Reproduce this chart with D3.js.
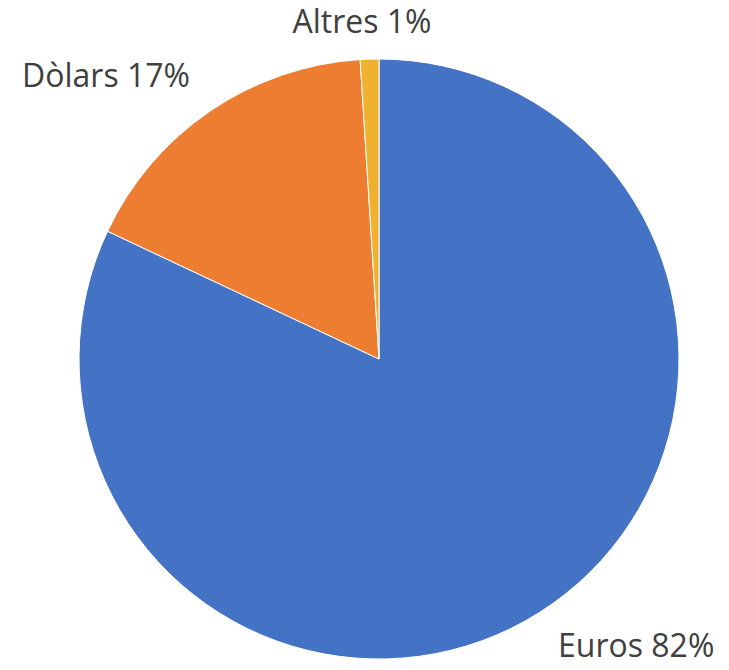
<!DOCTYPE html>
<html><head><meta charset="utf-8">
<script src="https://cdn.jsdelivr.net/npm/d3@7"></script>
<style>html,body{margin:0;padding:0;background:#fff;}</style>
</head><body>
<svg id="c" width="729" height="670"></svg>
<script>
const categories = ["Euros", "Dòlars", "Altres"];
const values = [82, 17, 1];
const colors = ["#4472C4", "#ED7D31", "#F0B130"];

const svg = d3.select("#c");
const cx = 379, cy = 359, R = 300;
const g = svg.append("g").attr("transform", `translate(${cx},${cy})`);
const data = categories.map((c, i) => ({ cat: c, val: values[i] }));
const pie = d3.pie().value(d => d.val).sort(null);
const arc = d3.arc().innerRadius(0).outerRadius(R);
const arcs = pie(data);
g.selectAll("path").data(arcs).enter().append("path")
  .attr("d", arc)
  .attr("fill", (d, i) => colors[i])
  .attr("stroke", "#fff").attr("stroke-width", 1);

// label placement relative to center
const labelPos = [
  { dx: 179, dy: 298, anchor: "start" },
  { dx: -189, dy: -272, anchor: "end" },
  { dx: -17, dy: -326, anchor: "middle" }
];
g.selectAll("text.lbl").data(arcs).enter().append("text")
  .attr("class", "lbl")
  .attr("x", (d, i) => labelPos[i].dx)
  .attr("y", (d, i) => labelPos[i].dy)
  .attr("text-anchor", (d, i) => labelPos[i].anchor)
  .attr("font-family", "'Open Sans', sans-serif")
  .attr("font-size", 32)
  .attr("fill", "#404040")
  .text(d => `${d.data.cat} ${d.data.val}%`);
</script>
</body></html>
